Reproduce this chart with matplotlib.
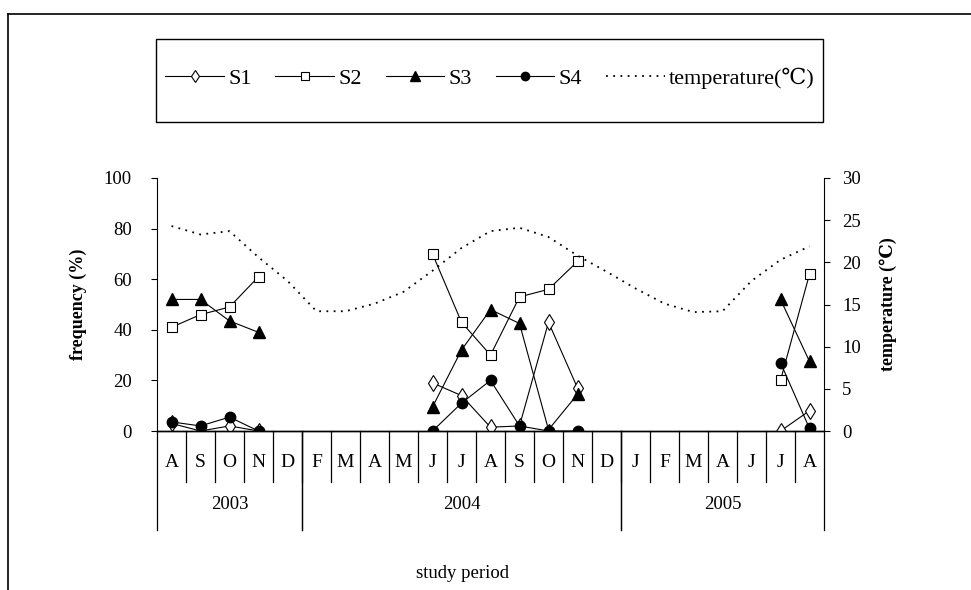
import numpy as np
import matplotlib.pyplot as plt
from matplotlib.lines import Line2D
from matplotlib.patches import Rectangle

plt.rcParams['font.family'] = ['Liberation Serif', 'DejaVu Serif', 'DejaVu Sans']

# ---------------- data ----------------
months = ["A", "S", "O", "N", "D",
          "F", "M", "A", "M", "J", "J", "A", "S", "O", "N", "D",
          "J", "F", "M", "A", "J", "J", "A"]
years = ["2003", "2004", "2005"]
year_bounds = [(0, 4), (5, 15), (16, 22)]   # first / last month index per year

nan = np.nan
s1 = [3, 0, 2, 0, nan, nan, nan, nan, nan, 19, 14, 1.5, 2, 43, 17, nan, nan, nan, nan, nan, nan, 0, 8]
s2 = [41, 46, 49, 61, nan, nan, nan, nan, nan, 70, 43, 30, 53, 56, 67, nan, nan, nan, nan, nan, nan, 20, 62]
s3 = [52, 52, 43.5, 39, nan, nan, nan, nan, nan, 9.5, 32, 48, 42.5, 0.5, 14.5, nan, nan, nan, nan, nan, nan, 52, 27.5]
s4 = [3.6, 2, 5.5, 0, nan, nan, nan, nan, nan, 0, 11, 20, 2, 0, 0, nan, nan, nan, nan, nan, nan, 27, 1]
temperature = [24.3, 23.3, 23.7, 20.6, 17.8, 14.2, 14.2, 15.1, 16.5, 19.0, 21.7, 23.7,
               24.1, 23.0, 20.8, 18.9, 16.9, 15.1, 14.1, 14.2, 17.8, 20.3, 21.9]

x = np.arange(len(months))

# ---------------- figure ----------------
fig = plt.figure(figsize=(9.71, 5.90), dpi=100)
ax = fig.add_axes([157/971, 1-431/590, 667/971, 253/590])

lw = 0.8
ax.plot(x, s1, color="black", lw=lw, marker="d", ms=8, mfc="white", mec="black", mew=0.8, label="S1", zorder=3)
ax.plot(x, s2, color="black", lw=lw, marker="s", ms=7.5, mfc="white", mec="black", mew=0.8, label="S2", zorder=3)
ax.plot(x, s3, color="black", lw=lw, marker="^", ms=8.5, mfc="black", mec="black", label="S3", zorder=4)
ax.plot(x, s4, color="black", lw=lw, marker="o", ms=7.5, mfc="black", mec="black", label="S4", zorder=4)

ax2 = ax.twinx()
ax2.plot(x, temperature, color="black", lw=1.3, ls=(0, (1, 3)), label="temperature(\u2103)")

ax.set_xlim(-0.5, len(months) - 0.5)
ax.set_ylim(0, 100)
ax2.set_ylim(0, 30)
ax.set_yticks(range(0, 101, 20))
ax2.set_yticks(range(0, 31, 5))
ax.set_xticks([])

for a in (ax, ax2):
    a.spines["top"].set_visible(False)
    a.spines["bottom"].set_linewidth(1.0)
ax2.spines["left"].set_visible(False)
ax.spines["right"].set_visible(False)
ax.tick_params(axis="y", direction="out", length=4, pad=14, labelsize=13.5)
ax2.tick_params(axis="y", direction="out", length=4, pad=9, labelsize=13.5)
ax2.set_xticks([])

ax.set_ylabel("frequency (%)", fontsize=13, fontweight="bold")
ax.yaxis.set_label_coords(-0.105, 0.5)
ax2.set_ylabel("temperature (\u2103)", fontsize=13, fontweight="bold")
ax2.yaxis.set_label_coords(1.083, 0.5)

# category axis: month dividers, month labels, year dividers, year labels
month_bottom, year_bottom = -20.2, -39.1
for i in range(1, len(months)):
    ax.plot([i - 0.5, i - 0.5], [0, month_bottom], color="black", lw=0.9, clip_on=False)
for i, m in enumerate(months):
    ax.text(i, -12.3, m, ha="center", va="center", fontsize=14)
for (a0, a1), yr in zip(year_bounds, years):
    for b in (a0 - 0.5, a1 + 0.5):
        ax.plot([b, b], [0, year_bottom], color="black", lw=0.9, clip_on=False)
    ax.text((a0 + a1) / 2, -29.2, yr, ha="center", va="center", fontsize=13.5)

fig.text(462/971, 1-573/590, "study period", ha="center", va="center", fontsize=13.5)

# legend box
fig.patches.append(Rectangle((156/971, 1-122/590), 667/971, 83/590, transform=fig.transFigure,
                             fill=False, edgecolor="black", lw=1.0))
handles = ax.get_lines()[:4] + ax2.get_lines()[:1]
fig.legend(handles, [h.get_label() for h in handles], loc="center",
           bbox_to_anchor=(490/971, 1-78/590), ncol=5, frameon=False,
           fontsize=16, handlelength=2.65, handletextpad=0.2, columnspacing=1.05,
           markerscale=0.8)

# outer frame
fig.add_artist(Line2D([8/971, 1], [1-14/590, 1-14/590], transform=fig.transFigure, color="black", lw=1.2))
fig.add_artist(Line2D([8/971, 8/971], [0, 1-14/590], transform=fig.transFigure, color="black", lw=1.2))

fig.savefig("out.png", dpi=100)
